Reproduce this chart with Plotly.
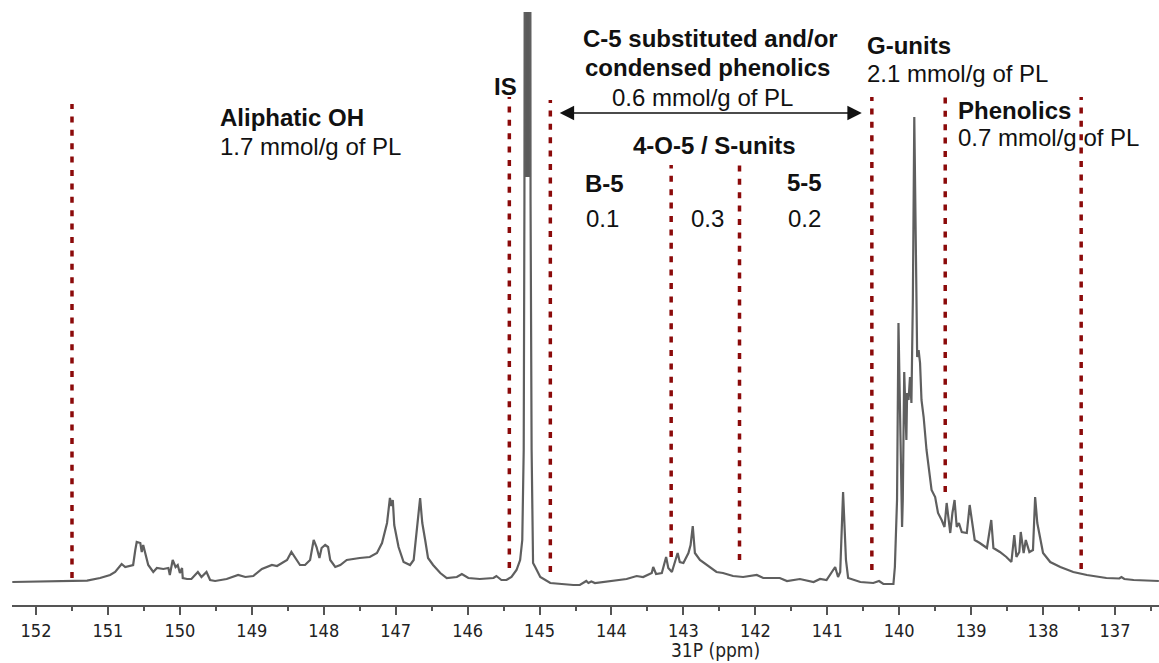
import plotly.graph_objects as go

# 31P NMR spectrum (chemical shift in ppm, intensity in arbitrary units)
ppm = [152.33, 151.57, 151.29, 151.11, 150.97, 150.90, 150.81, 150.76, 150.65, 150.62,
       150.60, 150.55, 150.53, 150.51, 150.48, 150.44, 150.37, 150.32, 150.23, 150.16,
       150.14, 150.10, 150.06, 150.03, 150.00, 149.97, 149.96, 149.90, 149.84, 149.75,
       149.70, 149.63, 149.58, 149.51, 149.35, 149.19, 149.09, 148.98, 148.86, 148.79,
       148.72, 148.65, 148.51, 148.45, 148.40, 148.33, 148.26, 148.19, 148.14, 148.10,
       148.06, 148.03, 147.98, 147.94, 147.91, 147.84, 147.77, 147.68, 147.50, 147.36,
       147.26, 147.19, 147.12, 147.10, 147.08, 147.06, 147.04, 147.02, 146.96, 146.89,
       146.80, 146.75, 146.71, 146.66, 146.64, 146.63, 146.59, 146.55, 146.48, 146.38,
       146.29, 146.15, 146.08, 145.99, 145.83, 145.64, 145.60, 145.53, 145.46, 145.39,
       145.32, 145.27, 145.24, 145.22, 145.21, 145.20, 145.167, 145.13, 145.125, 145.11,
       145.09, 145.06, 144.99, 144.85, 144.72, 144.53, 144.44, 144.35, 144.32, 144.28,
       144.23, 143.97, 143.79, 143.65, 143.56, 143.44, 143.42, 143.38, 143.30, 143.24,
       143.21, 143.16, 143.12, 143.08, 143.05, 143.00, 142.93, 142.90, 142.87, 142.84,
       142.77, 142.63, 142.54, 142.45, 142.31, 142.17, 141.98, 141.89, 141.66, 141.56,
       141.38, 141.19, 141.10, 141.01, 140.94, 140.89, 140.85, 140.82, 140.78, 140.74,
       140.71, 140.54, 140.36, 140.28, 140.22, 140.08, 140.06, 140.03, 140.01, 139.99,
       139.96, 139.95, 139.93, 139.90, 139.89, 139.87, 139.85, 139.83, 139.81, 139.79,
       139.77, 139.75, 139.73, 139.71, 139.69, 139.66, 139.62, 139.55, 139.50, 139.46,
       139.41, 139.37, 139.34, 139.31, 139.29, 139.26, 139.23, 139.20, 139.17, 139.13,
       139.06, 139.02, 138.99, 138.95, 138.88, 138.78, 138.72, 138.69, 138.60, 138.51,
       138.44, 138.40, 138.37, 138.33, 138.31, 138.27, 138.24, 138.19, 138.14, 138.11,
       138.08, 138.04, 138.00, 137.90, 137.76, 137.58, 137.39, 137.12, 136.94, 136.91,
       136.87, 136.74, 136.39]
intensity = [0, 1, 1.3, 4, 7, 10, 18, 15, 17, 32,
             40, 39, 30, 37, 27, 17, 10, 14, 13, 14,
             7, 22, 15, 17, 9, 14, 4, 3, 3, 10,
             5, 10, 2, 1, 3, 7, 5, 6, 13, 15,
             17, 16, 22, 30, 24, 17, 17, 22, 42, 35,
             24, 34, 37, 35, 22, 15, 17, 22, 24, 25,
             29, 39, 59, 70, 84, 76, 82, 57, 35, 20,
             17, 22, 49, 84, 67, 59, 42, 24, 17, 9,
             4, 5, 8, 4, 3, 4, 6, 2, 2, 5,
             12, 22, 42, 132, 382, 782, 3000, 782, 382, 132,
             19, 15, 5, -1, -2, -3, -3, 1, -1, 0.5,
             -1, 1, 3, 6, 5, 9, 15, 8, 9, 25,
             14, 10, 19, 29, 20, 19, 29, 37, 56, 29,
             22, 15, 10, 9, 6, 5, 7, 4, 4, 1,
             3, 0, 3, 2, 9, 15, 5, 10, 90, 22,
             4, 0, -1, 1, -2, -2, 15, 82, 259, 165,
             55, 82, 210, 142, 189, 182, 205, 179, 282, 465,
             332, 225, 232, 219, 182, 165, 132, 92, 85, 69,
             62, 55, 79, 57, 49, 69, 82, 55, 59, 50,
             49, 77, 62, 42, 39, 34, 62, 34, 30, 25,
             20, 47, 25, 30, 50, 29, 42, 30, 32, 85,
             59, 42, 29, 20, 15, 10, 7, 4, 3.5, 5,
             3, 2, 1]

# dense, saturated top of the internal-standard peak
is_core_ppm = [145.167, 145.167]
is_core_int = [405, 600]

# dotted region boundaries
divider_ppm = [151.50, 145.42, 144.85, 143.17, 142.22, 140.38, 139.36, 137.47]
divider_top = [478, 485, 482, 417, 417, 485, 485, 485]
divider_bottom = [4, 14, 10, 25, 22, 12, 90, 13]

# labels: (text, ppm, intensity, anchor, bold)
labels = [
    ("Aliphatic OH", 149.47, 465, "left", True),
    ("1.7 mmol/g of PL", 149.47, 436, "left", False),
    ("IS", 145.48, 496, "center", True),
    ("C-5 substituted and/or", 142.63, 544, "center", True),
    ("condensed phenolics", 142.66, 515, "center", True),
    ("0.6 mmol/g of PL", 142.73, 485, "center", False),
    ("4-O-5 / S-units", 142.57, 437, "center", True),
    ("B-5", 144.10, 399, "center", True),
    ("5-5", 141.31, 400, "center", True),
    ("0.1", 144.12, 364, "center", False),
    ("0.3", 142.67, 364, "center", False),
    ("0.2", 141.31, 364, "center", False),
    ("G-units", 140.48, 537, "left", True),
    ("2.1 mmol/g of PL", 140.48, 509, "left", False),
    ("Phenolics", 139.21, 472, "left", True),
    ("0.7 mmol/g of PL", 139.21, 445, "left", False),
]

arrow_ppm = [144.74, 140.52]
arrow_int = 469

tick_values = list(range(137, 153))
x_range = [152.334, 136.388]
y_range = [-23, 570]

TXT_FONT = "Liberation Sans, Arial, sans-serif"
AX_FONT = "DejaVu Sans Condensed, DejaVu Sans, Tahoma, sans-serif"
DIV_COLOR = "#8b0a0a"

fig = go.Figure()

for xp, yt, yb in zip(divider_ppm, divider_top, divider_bottom):
    fig.add_trace(go.Scatter(
        x=[xp, xp], y=[yb, yt], mode="lines",
        line=dict(color=DIV_COLOR, width=3.5, dash="6px,7.4px"),
        hoverinfo="skip", showlegend=False))

fig.add_trace(go.Scatter(
    x=is_core_ppm, y=is_core_int, mode="lines",
    line=dict(color="#5a5a5a", width=6), hoverinfo="skip", showlegend=False))

fig.add_trace(go.Scatter(
    x=ppm, y=intensity, mode="lines",
    line=dict(color="#5f5f5f", width=2.2), showlegend=False))

annotations = []
for text, xp, yv, anchor, bold in labels:
    annotations.append(dict(
        x=xp, y=yv, xref="x", yref="y", showarrow=False,
        text=f"<b>{text}</b>" if bold else text,
        xanchor=anchor, yanchor="middle",
        font=dict(family=TXT_FONT, size=24, color="#111111")))

annotations.append(dict(
    x=arrow_ppm[1], y=arrow_int, ax=arrow_ppm[0], ay=arrow_int,
    xref="x", yref="y", axref="x", ayref="y", text="",
    showarrow=True, arrowhead=2, startarrowhead=2, arrowside="end+start",
    arrowsize=1.8, startarrowsize=1.8, arrowwidth=1.6, arrowcolor="#111111"))

annotations.append(dict(
    x=142.56, y=-0.076, xref="x", yref="paper", showarrow=False,
    text="31P (ppm)", xanchor="center", yanchor="middle",
    font=dict(family=AX_FONT, size=19, color="#222222")))

fig.update_layout(
    width=1159, height=663,
    margin=dict(l=12, r=0, t=12, b=58),
    paper_bgcolor="white", plot_bgcolor="white",
    annotations=annotations,
    xaxis=dict(
        range=x_range, tickmode="array", tickvals=tick_values,
        ticktext=[str(v) for v in tick_values],
        ticks="outside", ticklen=8, tickwidth=2, tickcolor="#555555",
        showline=True, linecolor="#555555", linewidth=2,
        showgrid=False, zeroline=False,
        minor=dict(tickmode="array", tickvals=[v + 0.5 for v in range(136, 153)],
                   ticks="outside", ticklen=4, tickwidth=2, tickcolor="#555555",
                   showgrid=False),
        tickfont=dict(family=AX_FONT, size=18, color="#222222"),
    ),
    yaxis=dict(range=y_range, visible=False, showgrid=False, zeroline=False),
)

fig.write_html("out.html")
